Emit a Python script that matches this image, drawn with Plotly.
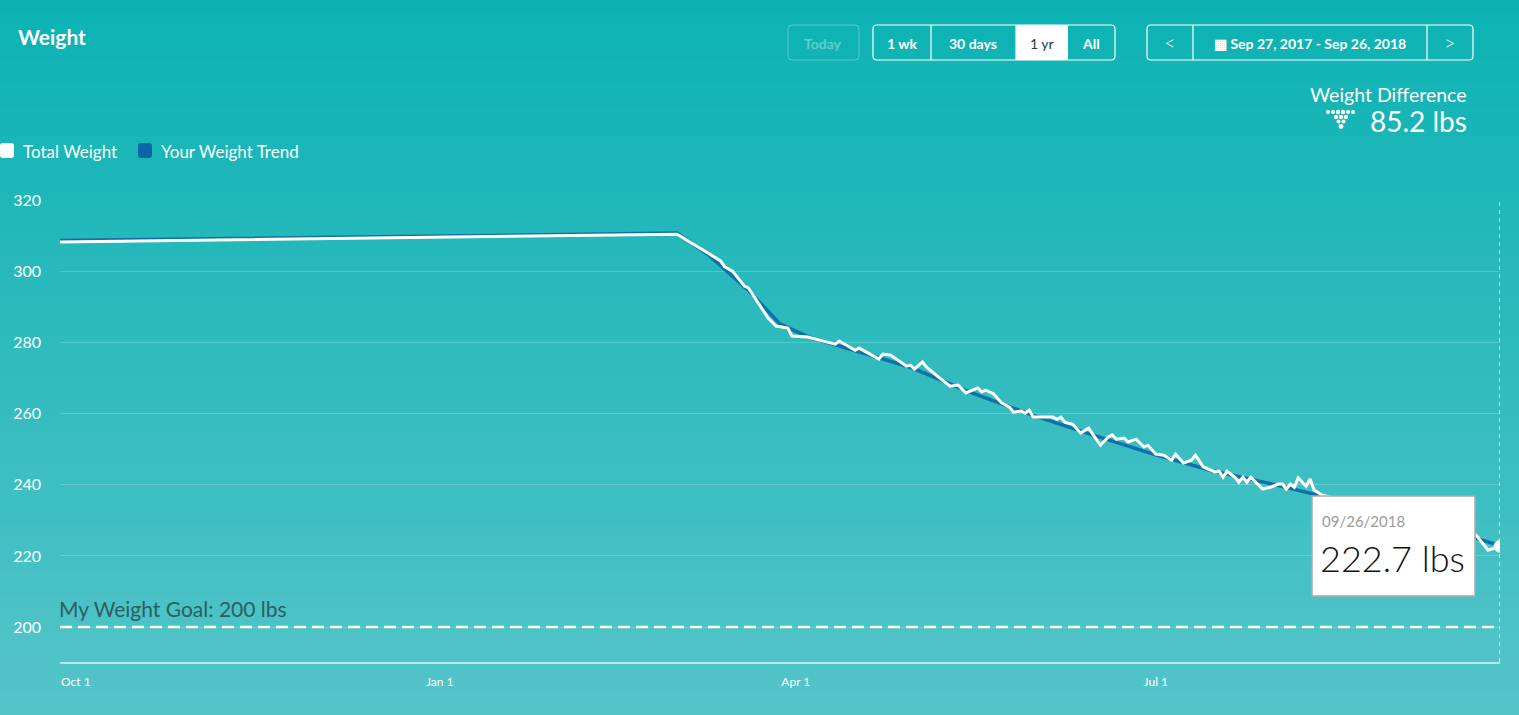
import plotly.graph_objects as go

# --- data ---
weight_dates = ["2017-09-27", "2018-03-02", "2018-03-13", "2018-03-14", "2018-03-16", "2018-03-19",
                "2018-03-20", "2018-03-25", "2018-03-27", "2018-03-30", "2018-03-31", "2018-04-04",
                "2018-04-11", "2018-04-12", "2018-04-16", "2018-04-17", "2018-04-22", "2018-04-23",
                "2018-04-25", "2018-04-29", "2018-04-30", "2018-05-01", "2018-05-03", "2018-05-04",
                "2018-05-07", "2018-05-10", "2018-05-12", "2018-05-14", "2018-05-17", "2018-05-18",
                "2018-05-19", "2018-05-21", "2018-05-23", "2018-05-25", "2018-05-26", "2018-05-28",
                "2018-05-29", "2018-05-30", "2018-05-31", "2018-06-05", "2018-06-06", "2018-06-07",
                "2018-06-08", "2018-06-10", "2018-06-12", "2018-06-14", "2018-06-17", "2018-06-19",
                "2018-06-20", "2018-06-21", "2018-06-23", "2018-06-24", "2018-06-26", "2018-06-28",
                "2018-06-29", "2018-07-01", "2018-07-03", "2018-07-05", "2018-07-06", "2018-07-08",
                "2018-07-10", "2018-07-11", "2018-07-13", "2018-07-15", "2018-07-16", "2018-07-17",
                "2018-07-18", "2018-07-19", "2018-07-21", "2018-07-22", "2018-07-23", "2018-07-24",
                "2018-07-25", "2018-07-28", "2018-07-30", "2018-08-01", "2018-08-02", "2018-08-03",
                "2018-08-04", "2018-08-05", "2018-08-06", "2018-08-08", "2018-08-09", "2018-08-10",
                "2018-08-12", "2018-08-15", "2018-08-20", "2018-08-25", "2018-08-30", "2018-09-05",
                "2018-09-10", "2018-09-15", "2018-09-20", "2018-09-23", "2018-09-26"]
weights = [308.2, 310.4, 302.9, 301.2, 300.0, 295.8, 295.3, 286.8, 284.6, 284.0, 281.8, 281.5,
           279.5, 280.4, 277.8, 278.4, 275.3, 276.7, 276.4, 273.3, 273.6, 272.5, 274.5, 273.1,
           270.3, 267.7, 268.0, 265.8, 267.2, 266.1, 266.6, 265.5, 263.0, 261.8, 260.4, 260.7,
           260.1, 261.0, 259.0, 259.0, 258.4, 259.0, 257.6, 257.0, 254.5, 255.9, 251.1, 253.4,
           254.0, 252.8, 253.1, 252.0, 252.8, 250.6, 251.1, 248.6, 248.3, 246.9, 248.6, 246.1,
           246.9, 248.3, 245.0, 244.1, 243.6, 243.8, 242.1, 243.8, 242.1, 240.7, 242.1, 240.7,
           242.1, 238.8, 239.3, 240.2, 240.2, 238.8, 240.2, 239.3, 241.9, 239.6, 241.6, 238.5,
           237.1, 236.3, 234.8, 233.1, 231.9, 230.2, 228.9, 227.2, 225.8, 221.6, 222.7]

trend_dates = ["2017-09-27", "2018-03-02", "2018-03-10", "2018-03-20", "2018-03-28", "2018-04-04",
               "2018-04-15", "2018-04-30", "2018-05-15", "2018-05-31", "2018-06-15", "2018-07-01",
               "2018-07-15", "2018-08-01", "2018-08-12", "2018-08-25", "2018-09-10", "2018-09-26"]
trend = [308.6, 310.7, 304.5, 294.6, 285.2, 281.6, 278.0, 273.0, 266.0, 259.5, 254.0, 248.4,
         244.0, 239.8, 236.8, 233.0, 228.3, 222.9]

goal = 200
y_ticks = [200, 220, 240, 260, 280, 300, 320]
x_ticks = ["2017-10-01", "2018-01-01", "2018-04-01", "2018-07-01"]
x_tick_labels = ["Oct 1", "Jan 1", "Apr 1", "Jul 1"]

# --- page geometry (pixels) ---
W, H = 1519, 715
L, R, T, B = 60, 19, 200, 53
PW, PH = W - L - R, H - T - B
FONT = "Lato"


def px(x):
    return (x - L) / PW


def py(y):
    return (H - B - y) / PH


def rrect(x0, y0, x1, y1, r=4):
    # rounded rectangle path in paper coords from pixel box
    p = [(x0 + r, y0), (x1 - r, y0), (x1, y0), (x1, y0 + r), (x1, y1 - r), (x1, y1), (x1 - r, y1),
         (x0 + r, y1), (x0, y1), (x0, y1 - r), (x0, y0 + r), (x0, y0), (x0 + r, y0)]
    q = [(px(a), py(b)) for a, b in p]
    s = "M{},{} L{},{} Q{},{} {},{} L{},{} Q{},{} {},{} L{},{} Q{},{} {},{} L{},{} Q{},{} {},{} Z"
    flat = [v for pt in q for v in pt]
    return s.format(*flat)


fig = go.Figure()

fig.add_trace(go.Scatter(x=trend_dates, y=trend, mode="lines", name="Your Weight Trend",
                         line=dict(color="#1071a9", width=3.5), hoverinfo="skip"))
fig.add_trace(go.Scatter(x=weight_dates, y=weights, mode="lines", name="Total Weight",
                         line=dict(color="white", width=3),
                         hovertemplate="%{x|%m/%d/%Y}<br>%{y:.1f} lbs<extra></extra>"))
fig.add_trace(go.Scatter(x=weight_dates[-1:], y=weights[-1:], mode="markers",
                         marker=dict(color="white", size=12, line=dict(color="#e8f6f6", width=1)),
                         hoverinfo="skip"))

shapes = []
# vertical background gradient
top_c, bot_c = (12, 178, 179), (84, 196, 201)
n = 60
for i in range(n):
    t = i / (n - 1)
    c = tuple(round(top_c[k] + (bot_c[k] - top_c[k]) * t) for k in range(3))
    shapes.append(dict(type="rect", xref="paper", yref="paper", layer="below", line=dict(width=0),
                       x0=px(0), x1=px(W), y0=py(i * H / n), y1=py((i + 1) * H / n + 1),
                       fillcolor="rgb({},{},{})".format(*c)))

# goal line and hover spike
shapes.append(dict(type="line", xref="paper", yref="y", x0=0, x1=1, y0=goal, y1=goal,
                   line=dict(color="white", width=2.5, dash="12px,6px")))
shapes.append(dict(type="line", xref="x", yref="paper", x0=weight_dates[-1], x1=weight_dates[-1],
                   y0=0, y1=1, line=dict(color="rgba(255,255,255,0.85)", width=1.5, dash="4px,4px")))

# tooltip box
shapes.append(dict(type="rect", xref="paper", yref="paper", x0=px(1312), x1=px(1475),
                   y0=py(596), y1=py(496), fillcolor="white", line=dict(color="#a9a9a9", width=1.5)))

# buttons
shapes.append(dict(type="path", xref="paper", yref="paper", path=rrect(788, 25, 859, 60),
                   line=dict(color="rgba(255,255,255,0.3)", width=1)))
shapes.append(dict(type="rect", xref="paper", yref="paper", x0=px(1016), x1=px(1068),
                   y0=py(60), y1=py(25), fillcolor="white", line=dict(width=0)))
shapes.append(dict(type="path", xref="paper", yref="paper", path=rrect(873, 25, 1115, 60),
                   line=dict(color="white", width=1.2)))
shapes.append(dict(type="path", xref="paper", yref="paper", path=rrect(1147, 25, 1473, 60),
                   line=dict(color="white", width=1.2)))
for xd in [931, 1016, 1193, 1427]:
    shapes.append(dict(type="line", xref="paper", yref="paper", x0=px(xd), x1=px(xd),
                       y0=py(60), y1=py(25), line=dict(color="white", width=1.2)))

# legend swatches
shapes.append(dict(type="path", xref="paper", yref="paper", path=rrect(0, 143, 14, 158, 3),
                   fillcolor="white", line=dict(width=0)))
shapes.append(dict(type="path", xref="paper", yref="paper", path=rrect(138, 143, 152, 158, 3),
                   fillcolor="#0b66a6", line=dict(width=0)))

# fitbit dots
dots = [(1328, 112, 2), (1333, 112, 2), (1338, 112, 2.2), (1343, 112, 2.2), (1348, 112, 2), (1353, 112, 2),
        (1336, 117, 2.2), (1341, 117, 2.2), (1346, 117, 2.2), (1338.5, 121.5, 2), (1343.5, 121.5, 2),
        (1341, 126.5, 2.4)]
for cx, cy, r in dots:
    shapes.append(dict(type="circle", xref="paper", yref="paper", fillcolor="white", line=dict(width=0),
                       x0=px(cx - r), x1=px(cx + r), y0=py(cy + r), y1=py(cy - r)))


def label(x, y, text, size, color="white", anchor="left", weight="normal"):
    return dict(xref="paper", yref="paper", x=px(x), y=py(y), text=text, showarrow=False,
                xanchor=anchor, yanchor="middle", borderpad=0,
                font=dict(family=FONT, size=size, color=color, weight=weight))


annotations = [
    label(17, 37, "Weight", 21, weight="bold"),
    label(823, 43, "Today", 14, color="rgba(255,255,255,0.35)", anchor="center", weight="bold"),
    label(902, 43, "1 wk", 14, anchor="center", weight="bold"),
    label(973, 43, "30 days", 14, anchor="center", weight="bold"),
    label(1042, 43, "1 yr", 14, color="#1d3b48", anchor="center"),
    label(1091, 43, "All", 14, anchor="center", weight="bold"),
    label(1170, 42, "<", 20, anchor="center", weight=300),
    label(1310, 43, "▦ Sep 27, 2017 - Sep 26, 2018", 14, anchor="center", weight="bold"),
    label(1450, 42, ">", 20, anchor="center", weight=300),
    label(1468, 95, "Weight Difference", 19.5, anchor="right"),
    label(1468, 121, "85.2 lbs", 28, anchor="right"),
    label(22, 151, "Total Weight", 17),
    label(160, 151, "Your Weight Trend", 17),
    label(58, 608, "My Weight Goal: 200 lbs", 21, color="#2c5e62"),
    label(1321, 521, "09/26/2018", 15, color="#9a9a9a"),
    label(1319, 558, "222.7 lbs", 36, color="#111111", weight=300),
]

fig.update_layout(
    width=W, height=H,
    margin=dict(l=L, r=R, t=T, b=B),
    paper_bgcolor="rgb(12,178,179)",
    plot_bgcolor="rgba(0,0,0,0)",
    showlegend=False,
    hovermode="closest",
    shapes=shapes,
    annotations=annotations,
    font=dict(family=FONT, color="white"),
)
fig.update_xaxes(type="date", range=["2017-09-27", "2018-09-26"], tickvals=x_ticks,
                 ticktext=x_tick_labels, showgrid=False, zeroline=False, showline=True,
                 linecolor="rgba(255,255,255,0.6)", linewidth=2, ticks="",
                 ticklabelstandoff=8, tickfont=dict(family=FONT, size=12, color="white"))
fig.update_yaxes(range=[190.2, 320], tickvals=y_ticks, showgrid=True,
                 gridcolor="rgba(255,255,255,0.2)", gridwidth=1, zeroline=False, showline=False,
                 ticks="", ticklabelstandoff=18, tickfont=dict(family=FONT, size=16, color="white"))

# drop the default body margin so the figure sits at the page corner
fig.write_html("out.html", config={"displayModeBar": False},
               post_script="document.body.style.margin='0';document.body.style.overflow='hidden';")
